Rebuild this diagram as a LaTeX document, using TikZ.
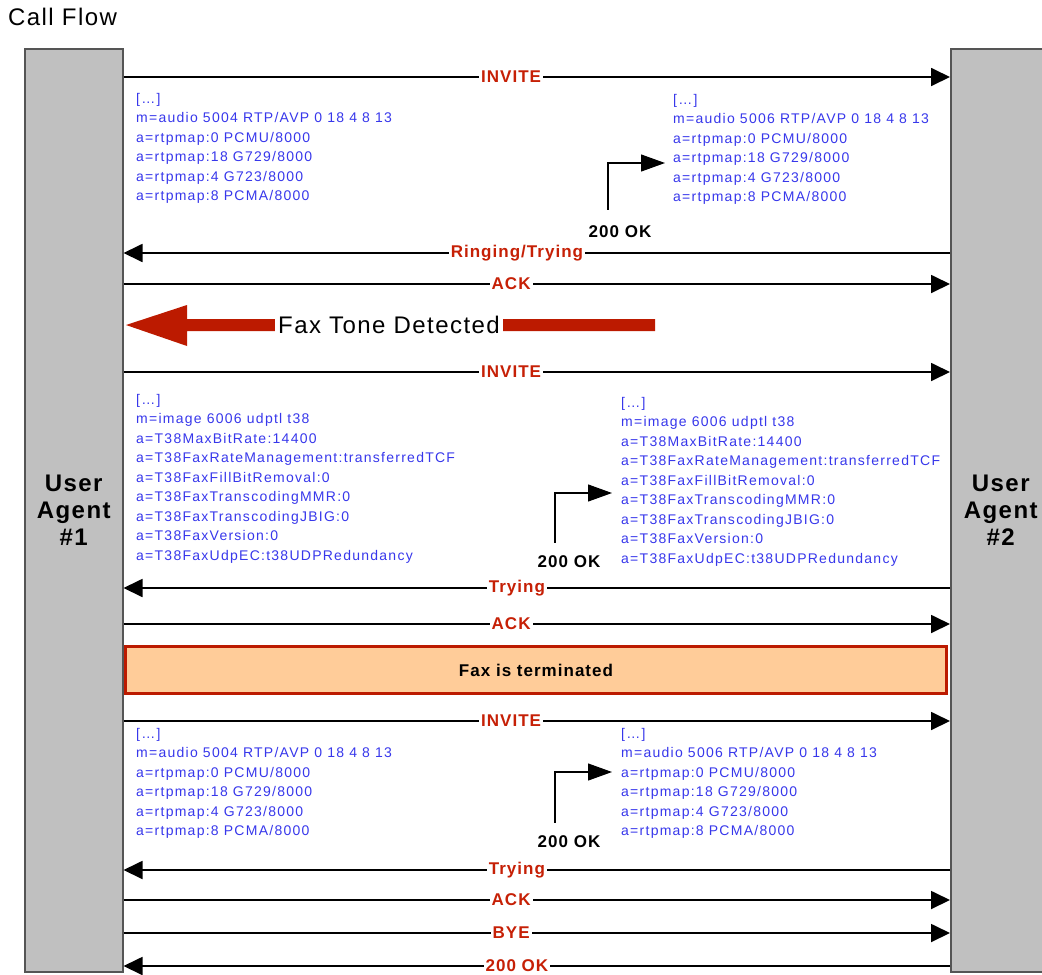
\documentclass[tikz,border=0pt]{standalone}
\usepackage{fontspec}
\setmainfont{Liberation Sans}[LetterSpace=6]
\usetikzlibrary{arrows.meta, positioning}
\definecolor{boxgray}{RGB}{192,192,192}
\definecolor{edgegray}{RGB}{85,85,85}
\definecolor{msgred}{RGB}{198,32,6}
\definecolor{faxred}{RGB}{188,26,0}
\definecolor{sdpblue}{RGB}{55,55,235}
\definecolor{peach}{RGB}{255,204,153}

\begin{document}
\begin{tikzpicture}[
    x=1pt, y=-1pt,
    lifeline/.style={draw=edgegray, line width=1.5pt, fill=boxgray,
                     anchor=north west, minimum height=923pt, align=center,
                     font=\fontsize{24}{27}\selectfont\bfseries},
    msg/.style={line width=1.8pt, -{Triangle[length=19pt,width=18pt]}},
    lbl/.style={fill=white, inner sep=2pt, text=msgred,
                font=\fontsize{17}{17}\selectfont\bfseries},
    sdp/.style={anchor=north west, inner sep=0pt, align=left, text=sdpblue,
                font=\fontsize{14}{19.5}\selectfont\addfontfeature{LetterSpace=9}},
    okarrow/.style={line width=1.2pt, -{Triangle[length=24pt,width=17pt]}},
    oklbl/.style={inner sep=0pt, font=\fontsize{17}{17}\selectfont\bfseries}
]
\useasboundingbox (0,0) rectangle (1042,975);

\node[anchor=west, inner sep=0pt, font=\fontsize{24}{24}\selectfont] (title) at (8,17) {Call Flow};

\node[lifeline, minimum width=98pt] (ua1) at (24,48) {User\\Agent\\\#1};
\node[lifeline, minimum width=100pt] (ua2) at (950,48) {User\\Agent\\\#2};

\draw[msg] (ua1.east |- 0,77) -- node[lbl, pos=0.469]{INVITE} (ua2.west |- 0,77);

\node[sdp] (sdpA) at (136,93) {[…]\\m=audio 5004 RTP/AVP 0 18 4 8 13\\a=rtpmap:0 PCMU/8000\\a=rtpmap:18 G729/8000\\a=rtpmap:4 G723/8000\\a=rtpmap:8 PCMA/8000};
\node[sdp] (sdpB) at (673,94) {[…]\\m=audio 5006 RTP/AVP 0 18 4 8 13\\a=rtpmap:0 PCMU/8000\\a=rtpmap:18 G729/8000\\a=rtpmap:4 G723/8000\\a=rtpmap:8 PCMA/8000};
\node[oklbl] (okA) at (620,232) {200 OK};
\draw[okarrow, shorten >=8pt] ([xshift=-12pt, yshift=16pt]okA.north) |- (sdpB.west |- 0,163);

\draw[msg] (ua2.west |- 0,253) -- node[lbl, pos=0.524]{Ringing/Trying} (ua1.east |- 0,253);
\draw[msg] (ua1.east |- 0,284) -- node[lbl, pos=0.469]{ACK} (ua2.west |- 0,284);

\fill[faxred] (655,319) -- (187,319) -- (187,305) -- (126,325) -- (187,346) -- (187,331) -- (655,331) -- cycle;
\node[fill=white, inner sep=3pt, font=\fontsize{24}{24}\selectfont] (tone) at (389,325) {Fax Tone Detected};

\draw[msg] (ua1.east |- 0,372) -- node[lbl, pos=0.469]{INVITE} (ua2.west |- 0,372);

\node[sdp] (sdpC) at (136,394) {[…]\\m=image 6006 udptl t38\\a=T38MaxBitRate:14400\\a=T38FaxRateManagement:transferredTCF\\a=T38FaxFillBitRemoval:0\\a=T38FaxTranscodingMMR:0\\a=T38FaxTranscodingJBIG:0\\a=T38FaxVersion:0\\a=T38FaxUdpEC:t38UDPRedundancy};
\node[sdp] (sdpD) at (621,397) {[…]\\m=image 6006 udptl t38\\a=T38MaxBitRate:14400\\a=T38FaxRateManagement:transferredTCF\\a=T38FaxFillBitRemoval:0\\a=T38FaxTranscodingMMR:0\\a=T38FaxTranscodingJBIG:0\\a=T38FaxVersion:0\\a=T38FaxUdpEC:t38UDPRedundancy};
\node[oklbl] (okB) at (569,562) {200 OK};
\draw[okarrow, shorten >=9pt] ([xshift=-14pt, yshift=13pt]okB.north) |- (sdpD.west |- 0,493);

\draw[msg] (ua2.west |- 0,588) -- node[lbl, pos=0.524]{Trying} (ua1.east |- 0,588);
\draw[msg] (ua1.east |- 0,624) -- node[lbl, pos=0.469]{ACK} (ua2.west |- 0,624);

\node[draw=faxred, line width=3pt, fill=peach, minimum width=821pt, minimum height=47pt,
      font=\fontsize{17}{17}\selectfont\bfseries] (term) at (536,670) {Fax is terminated};

\draw[msg] (ua1.east |- 0,721) -- node[lbl, pos=0.469]{INVITE} (ua2.west |- 0,721);

\node[sdp] (sdpE) at (136,728) {[…]\\m=audio 5004 RTP/AVP 0 18 4 8 13\\a=rtpmap:0 PCMU/8000\\a=rtpmap:18 G729/8000\\a=rtpmap:4 G723/8000\\a=rtpmap:8 PCMA/8000};
\node[sdp] (sdpF) at (621,728) {[…]\\m=audio 5006 RTP/AVP 0 18 4 8 13\\a=rtpmap:0 PCMU/8000\\a=rtpmap:18 G729/8000\\a=rtpmap:4 G723/8000\\a=rtpmap:8 PCMA/8000};
\node[oklbl] (okC) at (569,842) {200 OK};
\draw[okarrow, shorten >=9pt] ([xshift=-14pt, yshift=13pt]okC.north) |- (sdpF.west |- 0,772);

\draw[msg] (ua2.west |- 0,870) -- node[lbl, pos=0.524]{Trying} (ua1.east |- 0,870);
\draw[msg] (ua1.east |- 0,900) -- node[lbl, pos=0.469]{ACK} (ua2.west |- 0,900);
\draw[msg] (ua1.east |- 0,933) -- node[lbl, pos=0.469]{BYE} (ua2.west |- 0,933);
\draw[msg] (ua2.west |- 0,966) -- node[lbl, pos=0.524]{200 OK} (ua1.east |- 0,966);
\end{tikzpicture}
\end{document}
